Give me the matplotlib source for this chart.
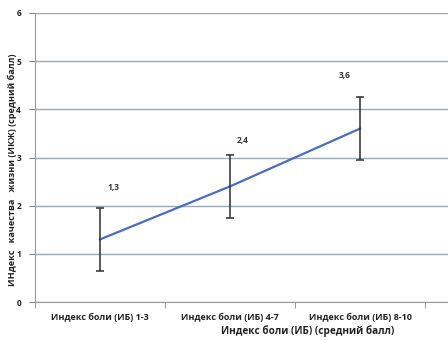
import matplotlib
matplotlib.use("Agg")
import matplotlib.pyplot as plt
from matplotlib.ticker import FixedLocator

plt.rcParams['font.family'] = ['Open Sans', 'DejaVu Sans']

categories = ["Индекс боли (ИБ) 1-3", "Индекс боли (ИБ) 4-7", "Индекс боли (ИБ) 8-10"]
values = [1.3, 2.4, 3.6]
errors = [0.66, 0.66, 0.65]
value_labels = ["1,3", "2,4", "3,6"]
label_offsets = [(13, 16), (13, 10), (-15, 17)]  # pixel offsets from error bar top

fig = plt.figure(figsize=(4.48, 3.40), dpi=100)
ax = fig.add_axes([35/448, 1 - 302/340, 1 - 35/448, (302 - 13)/340])

x = list(range(len(categories)))
ax.plot(x, values, color='#4a6cc4', lw=1.6, zorder=3)
ax.errorbar(x, values, yerr=errors, fmt='none', ecolor='#2e2e2e', elinewidth=1.1,
            capsize=3, capthick=1.1, zorder=4)
for xi, v, e, lab, off in zip(x, values, errors, value_labels, label_offsets):
    ax.annotate(lab, (xi, v + e), xytext=off, textcoords='offset pixels',
                ha='center', va='bottom', fontsize=6, fontweight='bold', color='#333333')

ax.set_ylim(0, 6)
ax.set_yticks(range(0, 7))
ax.set_xlim(-0.5, (448 - 100) / 130)
ax.set_xticks(x)
ax.set_xticklabels(categories, fontsize=6.5, fontweight='bold', color='#222222')
ax.xaxis.set_minor_locator(FixedLocator([-0.5, 0.5, 1.5, 2.5]))
ax.tick_params(axis='x', which='major', length=0, pad=8)
ax.tick_params(axis='x', which='minor', length=4, color='#888888', direction='out')
ax.tick_params(axis='y', length=4, color='#888888', labelsize=6, pad=6, labelcolor='#222222')
for t in ax.get_yticklabels():
    t.set_fontweight('bold')

ax.grid(axis='y', color='#98aab4', lw=1.0)
ax.set_axisbelow(True)
for s in ['top', 'right']:
    ax.spines[s].set_visible(False)
ax.spines['left'].set_color('#999999')
ax.spines['bottom'].set_color('#999999')

fig.text(12/448, 1 - 170/340, "ИНдекс   качества   жизни (ИКЖ) (средний балл)",
         rotation=90, ha='center', va='center', fontsize=6.6, fontweight='bold', color='#222222')
fig.text(308/448, 1 - 331/340, "Индекс боли (ИБ) (средний балл)",
         ha='center', va='center', fontsize=7.2, fontweight='bold', color='#222222')

fig.savefig("out.png", dpi=100)
